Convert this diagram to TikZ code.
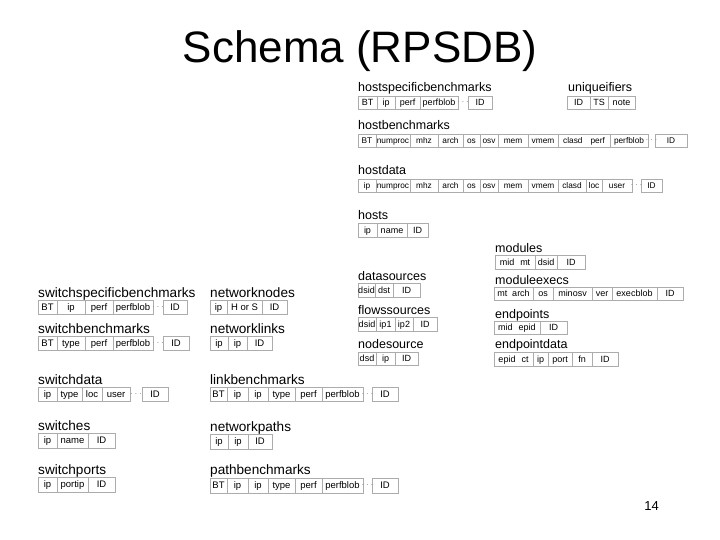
\documentclass[tikz,border=0pt]{standalone}
\usepackage{fontspec}
\setmainfont{Liberation Sans}

% one row of table cells: [text style]{top}{bottom}{x1/x2/text, ...}
\newcommand{\dbcells}[4][txtS]{%
  \foreach \xa/\xb/\txt in {#4} {
    \draw[cellbox] (\xa,#2) rectangle (\xb,#3);
    \node[#1] at ({(\xa+\xb)/2},{(#2+#3)/2}) {\txt};
  }}

\begin{document}
\begin{tikzpicture}[x=1pt, y=-1pt,
  cellbox/.style={draw=gray!65, line width=0.6pt},
  txtS/.style={font=\fontsize{9}{10}\selectfont, inner sep=0pt, text height=6.3pt, text depth=0pt},
  txtH/.style={font=\fontsize{8.3}{9}\selectfont, inner sep=0pt, text height=5.9pt, text depth=0pt},
  txtL/.style={font=\fontsize{9.5}{11}\selectfont, inner sep=0pt, text height=6.8pt, text depth=0pt},
  lblR/.style={font=\fontsize{12.5}{14}\selectfont, anchor=base west, inner sep=0pt},
  lblL/.style={font=\fontsize{13.6}{15}\selectfont, anchor=base west, inner sep=0pt},
  dots/.style={text=gray!85, inner sep=0pt, font=\fontsize{10}{11}\selectfont}]
  \path[fill=white, use as bounding box] (0,0) rectangle (720,540);

  % title and page number
  \node[font=\fontsize{44}{48}\selectfont, anchor=base, inner sep=0pt] (title) at (360,63) {Schema (RPSDB)};
  \node[font=\fontsize{13}{15}\selectfont, anchor=base east, inner sep=0pt] (pageno) at (659,510) {14};

  % ---- host side (right) ----
  \node[lblR] (hsb) at (358,92) {hostspecificbenchmarks};
  \dbcells{96}{109}{358/377/BT, 377/395/ip, 395/420/perf, 420/458/perfblob, 468/492/ID}
  \node[dots] (hsbdots) at (463,102.5) {$\cdots$};

  \node[lblR] (uniq) at (568,92) {uniqueifiers};
  \dbcells{96}{109}{567/590/ID, 590/608/TS, 608/635/note}

  \node[lblR] (hb) at (358,130) {hostbenchmarks};
  \dbcells[txtH]{134}{147}{358/376/BT, 376/410/numproc, 410/438/mhz, 438/463/arch, 463/480/os,
    480/498/osv, 498/528/mem, 528/558/vmem, 558/610/clasd\hspace{8pt}perf, 610/648/perfblob, 655/687/ID}
  \node[dots] (hbdots) at (651.5,140.5) {$\cdots$};

  \node[lblR] (hd) at (358,175) {hostdata};
  \dbcells[txtH]{179}{192}{358/376/ip, 376/410/numproc, 410/438/mhz, 438/463/arch, 463/480/os,
    480/498/osv, 498/528/mem, 528/558/vmem, 558/586/clasd, 586/602/loc, 602/632/user, 641/662/ID}
  \node[dots] (hddots) at (636.5,185.5) {$\cdots$};

  \node[lblR] (hosts) at (358,220) {hosts};
  \dbcells{223}{237}{358/377/ip, 377/407/name, 407/428/ID}

  \node[lblR] (mods) at (495,252) {modules};
  \dbcells{255}{269}{495/535/mid\hspace{6pt}mt, 535/557/dsid, 557/585/ID}

  \node[lblR] (dsrc) at (358,280) {datasources};
  \dbcells{283}{297}{358/375/dsid, 375/393/dst, 393/420/ID}

  \node[lblR] (mexec) at (495,284) {moduleexecs};
  \dbcells{287}{300}{494/533/mt\hspace{5pt}arch, 533/553/os, 553/592/minosv, 592/612/ver,
    612/657/execblob, 657/683/ID}

  \node[lblR] (fsrc) at (358,314) {flowssources};
  \dbcells{317}{331}{358/376/dsid, 376/395/ip1, 395/413/ip2, 413/437/ID}

  \node[lblR] (endp) at (495,318) {endpoints};
  \dbcells{321}{334}{494/540/mid\hspace{6pt}epid, 540/567/ID}

  \node[lblR] (nsrc) at (358,348) {nodesource};
  \dbcells{352}{365}{358/376/dsd, 376/395/ip, 395/418/ID}

  \node[lblR] (epdata) at (495,348) {endpointdata};
  \dbcells{352}{366}{494/533/epid\hspace{6pt}ct, 533/548/ip, 548/572/port, 572/592/fn, 592/618/ID}

  % ---- switch side (left) ----
  \node[lblL] (ssb) at (38,297) {switchspecificbenchmarks};
  \dbcells[txtL]{300}{314}{38/57/BT, 57/85/ip, 85/113/perf, 113/153/perfblob, 163/187/ID}
  \node[dots] (ssbdots) at (158,307) {$\cdots$};

  \node[lblL] (sb) at (38,333) {switchbenchmarks};
  \dbcells[txtL]{336}{350}{38/57/BT, 57/85/type, 85/113/perf, 113/153/perfblob, 163/189/ID}
  \node[dots] (sbdots) at (158,343) {$\cdots$};

  \node[lblL] (sd) at (38,384) {switchdata};
  \dbcells[txtL]{387}{401}{38/57/ip, 57/82/type, 82/102/loc, 102/130/user, 142/168/ID}
  \node[dots] (sddots) at (136,394) {$\cdots$};

  \node[lblL] (sw) at (38,430) {switches};
  \dbcells[txtL]{433}{448}{38/57/ip, 57/88/name, 88/115/ID}

  \node[lblL] (sp) at (38,474) {switchports};
  \dbcells[txtL]{477}{492}{38/57/ip, 57/88/portip, 88/115/ID}

  % ---- network (middle) ----
  \node[lblL] (nn) at (210,297) {networknodes};
  \dbcells[txtL]{300}{314}{210/227/ip, 227/262/H or S, 262/287/ID}

  \node[lblL] (nl) at (210,333) {networklinks};
  \dbcells[txtL]{336}{350}{210/228/ip, 228/247/ip, 247/272/ID}

  \node[lblL] (lb) at (210,384) {linkbenchmarks};
  \dbcells[txtL]{387}{401}{210/227/BT, 227/248/ip, 248/268/ip, 268/295/type, 295/322/perf,
    322/363/perfblob, 372/398/ID}
  \node[dots] (lbdots) at (367.5,394) {$\cdots$};

  \node[lblL] (np) at (210,431) {networkpaths};
  \dbcells[txtL]{434}{449}{210/228/ip, 228/248/ip, 248/272/ID}

  \node[lblL] (pb) at (210,474) {pathbenchmarks};
  \dbcells[txtL]{478}{493}{210/227/BT, 227/248/ip, 248/268/ip, 268/295/type, 295/322/perf,
    322/363/perfblob, 372/398/ID}
  \node[dots] (pbdots) at (367.5,485.5) {$\cdots$};
\end{tikzpicture}
\end{document}
